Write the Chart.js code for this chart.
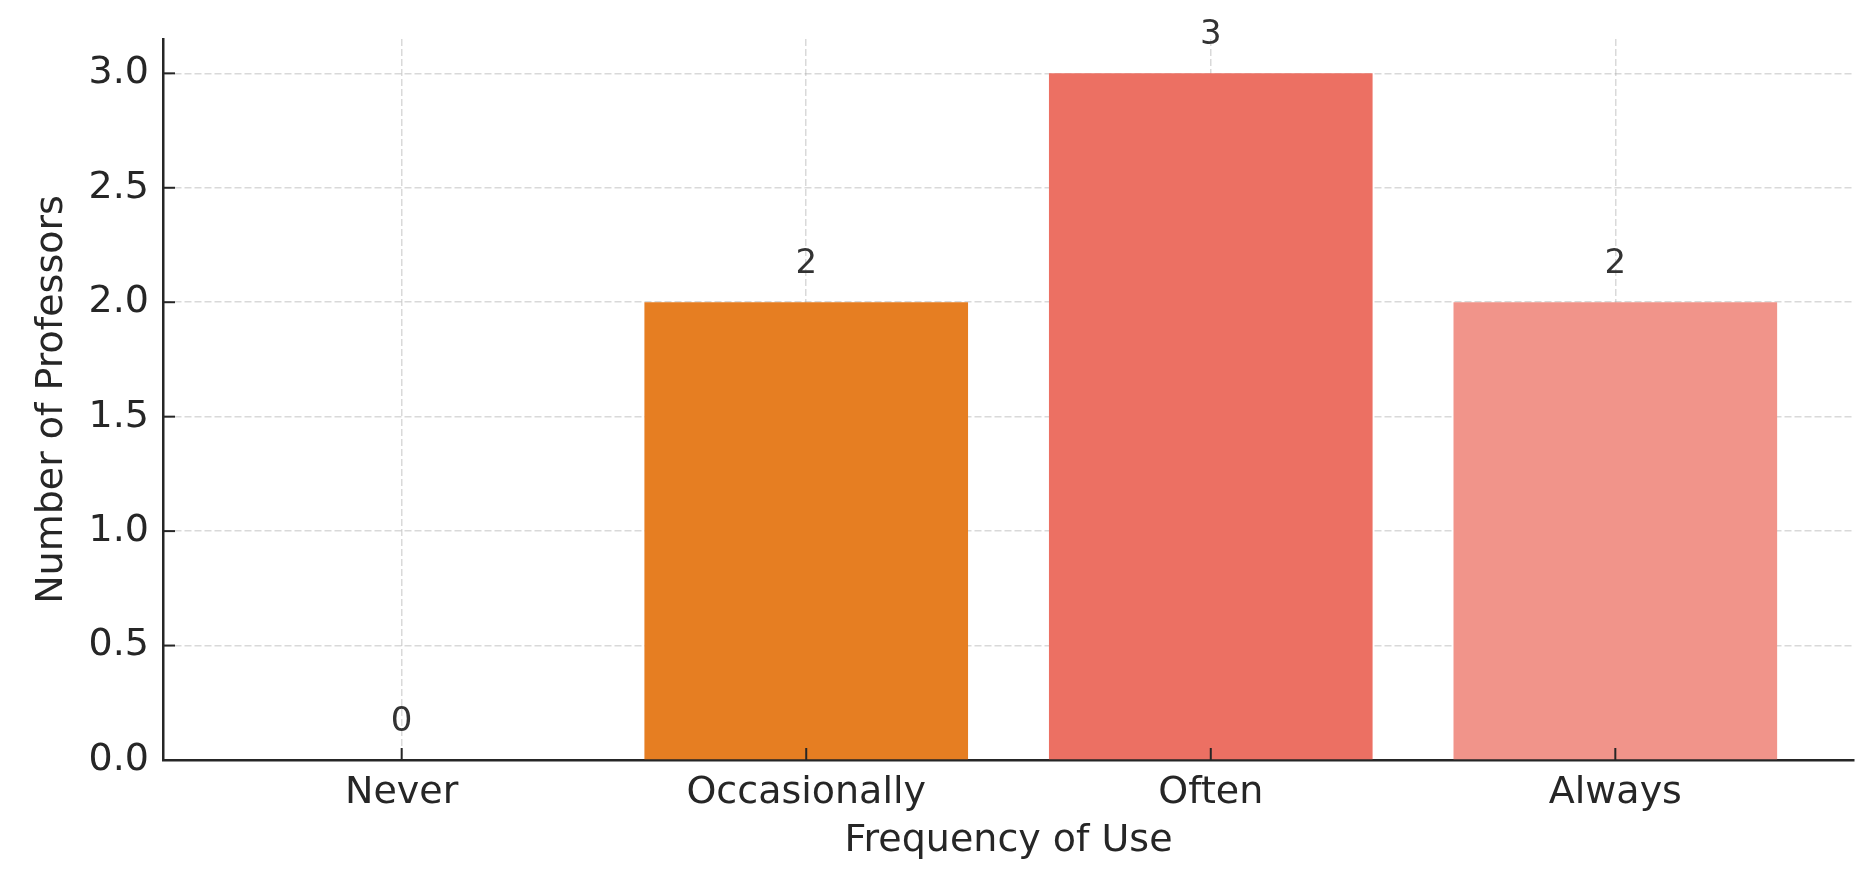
<!DOCTYPE html>
<html>
<head>
<meta charset="utf-8">
<script src="https://cdn.jsdelivr.net/npm/chart.js@4.4.1/dist/chart.umd.min.js"></script>
<style>
  html, body { margin: 0; padding: 0; background: #fff; }
  #wrap { width: 1875px; height: 876px; position: relative; }
</style>
</head>
<body>
<div id="wrap"><canvas id="grafico"></canvas></div>
<script>
const categorias = ["Never", "Occasionally", "Often", "Always"];
const professores = [0, 2, 3, 2];
const cores = ["#D35400", "#E67E22", "#EC7063", "#F1948A"];
const tituloX = "Frequency of Use";
const tituloY = "Number of Professors";

const corTexto = "#262626";
const fonte = { family: "DejaVu Sans", size: 38 };
const corGrade = "rgba(170,170,170,0.45)";

// rotulos de valor acima das barras
const rotulos = {
  id: "rotulos",
  afterDatasetsDraw(chart) {
    const ctx = chart.ctx;
    const meta = chart.getDatasetMeta(0);
    ctx.save();
    ctx.font = "34px 'DejaVu Sans'";
    ctx.fillStyle = "#333";
    ctx.textAlign = "center";
    ctx.textBaseline = "alphabetic";
    meta.data.forEach((bar, i) => {
      ctx.fillText(String(professores[i]), bar.x, bar.y - 29);
    });
    ctx.restore();
  }
};

// ticks para dentro, como no matplotlib
const ticksDentro = {
  id: "ticksDentro",
  afterDraw(chart) {
    const ctx = chart.ctx;
    const { x, y } = chart.scales;
    const area = chart.chartArea;
    ctx.save();
    ctx.strokeStyle = corTexto;
    ctx.lineWidth = 2;
    y.ticks.forEach(t => {
      const py = y.getPixelForValue(t.value);
      ctx.beginPath();
      ctx.moveTo(area.left, py);
      ctx.lineTo(area.left + 12, py);
      ctx.stroke();
    });
    x.ticks.forEach(t => {
      const px = x.getPixelForValue(t.value);
      ctx.beginPath();
      ctx.moveTo(px, area.bottom);
      ctx.lineTo(px, area.bottom - 12);
      ctx.stroke();
    });
    ctx.restore();
  }
};

new Chart(document.getElementById("grafico"), {
  type: "bar",
  data: {
    datasets: [{
      data: professores.map((v, i) => ({ x: i, y: v })),
      backgroundColor: cores,
      borderWidth: 0,
      barPercentage: 1,
      categoryPercentage: 0.8
    }]
  },
  options: {
    responsive: true,
    maintainAspectRatio: false,
    animation: false,
    devicePixelRatio: 1,
    layout: { padding: { top: 39, right: 21, left: 0, bottom: 0 } },
    plugins: { legend: { display: false }, tooltip: { enabled: false } },
    scales: {
      x: {
        type: "linear",
        min: -0.59,
        max: 3.59,
        offset: false,
        z: 1,
        afterFit: s => { s.height = 116; },
        ticks: {
          stepSize: 1,
          includeBounds: false,
          autoSkip: false,
          maxRotation: 0,
          padding: 10,
          color: corTexto,
          font: fonte,
          callback: v => categorias[v] ?? ""
        },
        grid: { color: corGrade, lineWidth: 1.5, drawTicks: false, offset: false },
        border: { color: corTexto, width: 2.5, dash: [7, 3] },
        title: { display: true, text: tituloX, color: corTexto, font: fonte, padding: { bottom: 12, top: 0 } }
      },
      y: {
        min: 0,
        max: 3.15,
        z: 1,
        afterFit: s => { s.width = 163; },
        ticks: {
          stepSize: 0.5,
          includeBounds: false,
          padding: 14,
          color: corTexto,
          font: fonte,
          callback: v => v.toFixed(1)
        },
        grid: { color: corGrade, lineWidth: 1.5, drawTicks: false },
        border: { color: corTexto, width: 2.5, dash: [7, 3] },
        title: { display: true, text: tituloY, color: corTexto, font: fonte, padding: { top: 29, bottom: 0 } }
      }
    }
  },
  plugins: [rotulos, ticksDentro]
});
</script>
</body>
</html>
